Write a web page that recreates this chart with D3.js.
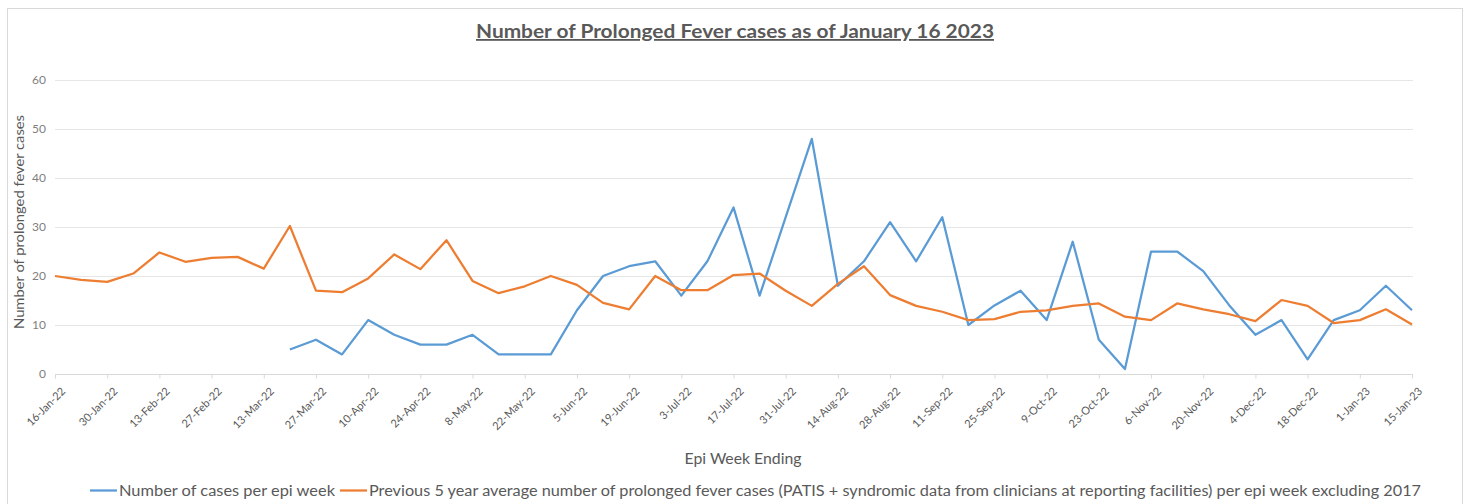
<!DOCTYPE html>
<html>
<head>
<meta charset="utf-8">
<script src="https://cdn.jsdelivr.net/npm/d3@7"></script>
<style>
  body { margin: 0; background: #fff; }
  svg text { font-family: Lato, "Open Sans", sans-serif; }
</style>
</head>
<body>
<script>
const weeks = ['16-Jan-22','23-Jan-22','30-Jan-22','6-Feb-22','13-Feb-22','20-Feb-22','27-Feb-22','6-Mar-22','13-Mar-22','20-Mar-22',
  '27-Mar-22','3-Apr-22','10-Apr-22','17-Apr-22','24-Apr-22','1-May-22','8-May-22','15-May-22','22-May-22','29-May-22',
  '5-Jun-22','12-Jun-22','19-Jun-22','26-Jun-22','3-Jul-22','10-Jul-22','17-Jul-22','24-Jul-22','31-Jul-22','7-Aug-22',
  '14-Aug-22','21-Aug-22','28-Aug-22','4-Sep-22','11-Sep-22','18-Sep-22','25-Sep-22','2-Oct-22','9-Oct-22','16-Oct-22',
  '23-Oct-22','30-Oct-22','6-Nov-22','13-Nov-22','20-Nov-22','27-Nov-22','4-Dec-22','11-Dec-22','18-Dec-22','25-Dec-22',
  '1-Jan-23','8-Jan-23','15-Jan-23'];
const tickWeeks = weeks.filter((d, i) => i % 2 === 0);

const cases = [null,null,null,null,null,null,null,null,null,5,
  7,4,11,8,6,6,8,4,4,4,
  13,20,22,23,16,23,34,16,32,48,
  18,23,31,23,32,10,14,17,11,27,
  7,1,25,25,21,14,8,11,3,11,
  13,18,13];
const avg5yr = [20,19.2,18.8,20.5,24.8,22.9,23.7,23.9,21.5,30.2,
  17,16.7,19.5,24.4,21.4,27.3,19,16.5,17.9,20,
  18.2,14.5,13.2,20,17.1,17.1,20.2,20.5,17,13.9,
  18.4,22,16.1,13.9,12.7,11,11.2,12.7,13,13.9,
  14.4,11.7,11,14.4,13.2,12.2,10.8,15.1,13.9,10.4,
  11,13.2,10.1];
const yTicks = [0,10,20,30,40,50,60];

const title = 'Number of Prolonged Fever cases as of January 16 2023';
const xTitle = 'Epi Week Ending';
const yTitle = 'Number of prolonged fever cases';
const seriesNames = ['Number of cases per epi week',
  'Previous 5 year average number of prolonged fever cases (PATIS + syndromic data from clinicians at reporting facilities) per epi week excluding 2017'];
const colors = ['#5b9bd5', '#ed7d31'];

const w = 1469, h = 504;
const svg = d3.select('body').append('svg').attr('width', w).attr('height', h);

// chart frame
svg.append('rect').attr('x', 7.5).attr('y', 8.5).attr('width', 1455).attr('height', 520)
  .attr('fill', 'none').attr('stroke', '#d9d9d9');

const x = d3.scalePoint().domain(weeks).range([55, 1412]);
const y = d3.scaleLinear().domain([0, 60]).range([374, 80]);

// gridlines
svg.append('g').selectAll('line')
  .data(yTicks.slice(1))
  .enter().append('line')
  .attr('x1', 55).attr('x2', 1413)
  .attr('y1', d => y(d) + 0.5).attr('y2', d => y(d) + 0.5)
  .attr('stroke', '#e6e6e6');

// y axis labels
const yAxis = d3.axisLeft(y).tickValues(yTicks).tickSize(0).tickPadding(9);
svg.append('g').attr('transform', 'translate(55,0)').call(yAxis)
  .call(g => g.select('.domain').remove())
  .selectAll('text').attr('fill', '#7f7f7f').style('font-size', '12px');

// x axis
const xAxis = d3.axisBottom(x).tickValues(tickWeeks).tickSize(4).tickSizeOuter(0).tickPadding(3);
const gx = svg.append('g').attr('transform', 'translate(0,374.5)').call(xAxis);
gx.select('.domain').attr('stroke', '#d9d9d9').attr('d', 'M55,0H1413');
gx.selectAll('.tick line').attr('stroke', '#d9d9d9');
gx.selectAll('.tick text')
  .attr('fill', '#595959').style('font-size', '11px')
  .attr('text-anchor', 'end')
  .attr('x', 0).attr('y', 0)
  .attr('transform', 'translate(5,12) rotate(-45)');

// lines
const line = d3.line()
  .defined(d => d[1] != null)
  .x(d => x(d[0]))
  .y(d => y(d[1]));
[cases, avg5yr].forEach((vals, k) => {
  svg.append('path')
    .datum(weeks.map((wk, i) => [wk, vals[i]]))
    .attr('d', line)
    .attr('fill', 'none')
    .attr('stroke', colors[k])
    .attr('stroke-width', 2.25)
    .attr('stroke-linejoin', 'round');
});

// title
svg.append('text')
  .attr('x', 735).attr('y', 38)
  .attr('text-anchor', 'middle')
  .attr('fill', '#595959')
  .style('font-size', '18px').style('font-weight', 'bold')
  .style('text-decoration', 'underline')
  .attr('textLength', 518).attr('lengthAdjust', 'spacingAndGlyphs')
  .text(title);

// axis titles
svg.append('text')
  .attr('transform', 'translate(24,222) rotate(-90)')
  .attr('text-anchor', 'middle')
  .attr('fill', '#595959').style('font-size', '14px')
  .attr('textLength', 214).attr('lengthAdjust', 'spacingAndGlyphs')
  .text(yTitle);
svg.append('text')
  .attr('x', 743).attr('y', 464)
  .attr('text-anchor', 'middle')
  .attr('fill', '#595959').style('font-size', '15px')
  .attr('textLength', 117).attr('lengthAdjust', 'spacingAndGlyphs')
  .text(xTitle);

// legend
const legend = svg.append('g').attr('transform', 'translate(0,490)');
const legendX = [90, 340];
const legendLen = [216, 1052];
seriesNames.forEach((name, k) => {
  legend.append('line')
    .attr('x1', legendX[k]).attr('x2', legendX[k] + 27)
    .attr('y1', 0.5).attr('y2', 0.5)
    .attr('stroke', colors[k]).attr('stroke-width', 2.25);
  legend.append('text')
    .attr('x', legendX[k] + 29).attr('y', 5.5)
    .attr('fill', '#595959').style('font-size', '14.5px')
    .attr('textLength', legendLen[k]).attr('lengthAdjust', 'spacingAndGlyphs')
    .text(name);
});
</script>
</body>
</html>
